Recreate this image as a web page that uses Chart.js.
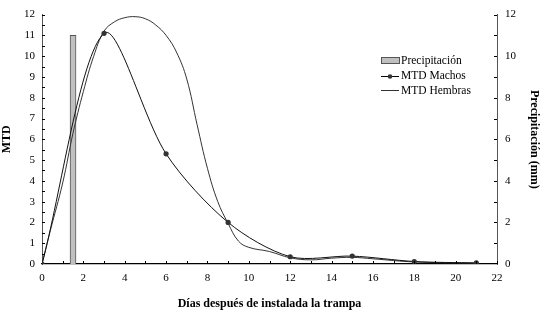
<!DOCTYPE html>
<html>
<head>
<meta charset="utf-8">
<script src="https://cdn.jsdelivr.net/npm/chart.js@4.4.0/dist/chart.umd.min.js"></script>
<style>
  body { margin: 0; background: #fff; }
  canvas { display: block; }
</style>
</head>
<body>
<canvas id="grafico" width="543" height="313"></canvas>
<script>
// datos
var diasLluvia = [1.5];
var precipitacion = [11];

var diasMachos = [0, 3, 6, 9, 12, 15, 18, 21];
var mtdMachos = [0, 11.1, 5.3, 2.0, 0.35, 0.38, 0.12, 0.05];

var diasHembras = [0, 0.4, 1, 1.5, 2, 2.5, 3, 3.5, 4, 4.5, 5, 5.5, 6, 6.5, 7, 7.5, 8, 8.5, 9, 9.5, 10, 11, 12, 13, 14, 15, 16, 18, 21];
var mtdHembras = [0, 1.6, 3.9, 6.3, 8.3, 10.0, 11.2, 11.65, 11.85, 11.9, 11.8, 11.5, 11.0, 10.2, 8.9, 6.7, 4.6, 3.0, 1.95, 1.1, 0.8, 0.6, 0.3, 0.2, 0.28, 0.32, 0.25, 0.1, 0.04];

function pares(xs, ys) {
    var out = [];
    for (var i in xs) {
        out.push({x: xs[i], y: ys[i]});
    }
    return out;
}

var fuenteTicks = {family: 'Liberation Serif', size: 11};
var fuenteTitulo = {family: 'Liberation Serif', size: 12, weight: 'bold'};

// marcas de division hacia adentro
var marcasInternas = {
    id: 'marcasInternas',
    afterDatasetsDraw: function (chart) {
        var ctx = chart.ctx;
        var sx = chart.scales.x, sy = chart.scales.y, sy2 = chart.scales.y2;
        ctx.save();
        ctx.strokeStyle = '#000';
        ctx.lineWidth = 1;
        ctx.beginPath();
        for (var v = 1; v <= 22; v++) {
            var px = Math.round(sx.getPixelForValue(v)) + 0.5;
            ctx.moveTo(px, sx.top);
            ctx.lineTo(px, sx.top - 3);
        }
        for (var w = 0.5; w <= 12; w += 0.5) {
            var py = Math.round(sy.getPixelForValue(w)) + 0.5;
            ctx.moveTo(sy.right, py);
            ctx.lineTo(sy.right + 3, py);
        }
        for (var k = 1; k <= 12; k++) {
            var py2 = Math.round(sy2.getPixelForValue(k)) + 0.5;
            ctx.moveTo(sy2.left, py2);
            ctx.lineTo(sy2.left - 3, py2);
        }
        ctx.stroke();
        ctx.restore();
    }
};

// leyenda dibujada dentro del area
var leyenda = {
    id: 'leyenda',
    afterDraw: function (chart) {
        var ctx = chart.ctx;
        ctx.save();
        ctx.font = '11.5px "Liberation Serif"';
        ctx.textBaseline = 'middle';

        ctx.fillStyle = '#c0c0c0';
        ctx.fillRect(381, 57.5, 18, 6);
        ctx.strokeStyle = '#555';
        ctx.strokeRect(381.5, 57.5, 18, 6);
        ctx.fillStyle = '#000';
        ctx.fillText('Precipitación', 401, 61);

        ctx.strokeStyle = '#000';
        ctx.beginPath();
        ctx.moveTo(381, 76.5);
        ctx.lineTo(399, 76.5);
        ctx.stroke();
        ctx.beginPath();
        ctx.arc(390, 76.5, 2.3, 0, Math.PI * 2);
        ctx.fillStyle = '#333';
        ctx.fill();
        ctx.fillStyle = '#000';
        ctx.fillText('MTD Machos', 401, 76);

        ctx.strokeStyle = '#333';
        ctx.beginPath();
        ctx.moveTo(381, 90.5);
        ctx.lineTo(399, 90.5);
        ctx.stroke();
        ctx.fillText('MTD Hembras', 401, 90.5);
        ctx.restore();
    }
};

var graficoTarget = document.getElementById('grafico');

var grafico = new Chart(graficoTarget, {
    type: 'bar',
    data: {
        datasets: [
            {
                type: 'line',
                label: 'MTD Machos',
                data: pares(diasMachos, mtdMachos),
                yAxisID: 'y',
                borderColor: '#111',
                borderWidth: 1,
                backgroundColor: '#333',
                pointRadius: 2.6,
                pointBorderWidth: 0,
                tension: 0.3,
                order: 1
            },
            {
                type: 'line',
                label: 'MTD Hembras',
                data: pares(diasHembras, mtdHembras),
                yAxisID: 'y',
                borderColor: '#333',
                borderWidth: 1,
                pointRadius: 0,
                tension: 0.4,
                order: 2
            },
            {
                label: 'Precipitación',
                data: pares(diasLluvia, precipitacion),
                yAxisID: 'y2',
                backgroundColor: '#c0c0c0',
                borderColor: '#555',
                borderWidth: 1,
                barThickness: 6,
                order: 3
            }
        ]
    },
    options: {
        responsive: false,
        animation: false,
        layout: {padding: {top: 10}},
        plugins: {
            legend: {display: false},
            tooltip: {enabled: false}
        },
        scales: {
            x: {
                type: 'linear',
                min: 0,
                max: 22,
                offset: false,
                grid: {display: false, drawTicks: false},
                border: {display: true, color: '#000', width: 1.2},
                ticks: {stepSize: 2, padding: 8, color: '#000', font: fuenteTicks, maxRotation: 0},
                title: {display: true, text: 'Días después de instalada la trampa', color: '#000', font: fuenteTitulo, padding: {top: 0, bottom: 2}},
                afterFit: function (s) { s.height = 49; }
            },
            y: {
                position: 'left',
                min: 0,
                max: 12,
                grid: {display: false, drawTicks: false},
                border: {display: true, color: '#555', width: 1},
                ticks: {stepSize: 1, padding: 7, color: '#000', font: fuenteTicks},
                title: {display: true, text: 'MTD', color: '#000', font: fuenteTitulo, padding: {top: 0, bottom: 0}},
                afterFit: function (s) { s.width = 42; }
            },
            y2: {
                position: 'right',
                min: 0,
                max: 12,
                grid: {display: false, drawTicks: false},
                border: {display: true, color: '#555', width: 1},
                ticks: {stepSize: 2, padding: 8, color: '#000', font: fuenteTicks},
                title: {display: true, text: 'Precipitación (mm)', color: '#000', font: fuenteTitulo, padding: {top: 2, bottom: 0}},
                afterFit: function (s) { s.width = 46; }
            }
        }
    },
    plugins: [marcasInternas, leyenda]
});
</script>
</body>
</html>
